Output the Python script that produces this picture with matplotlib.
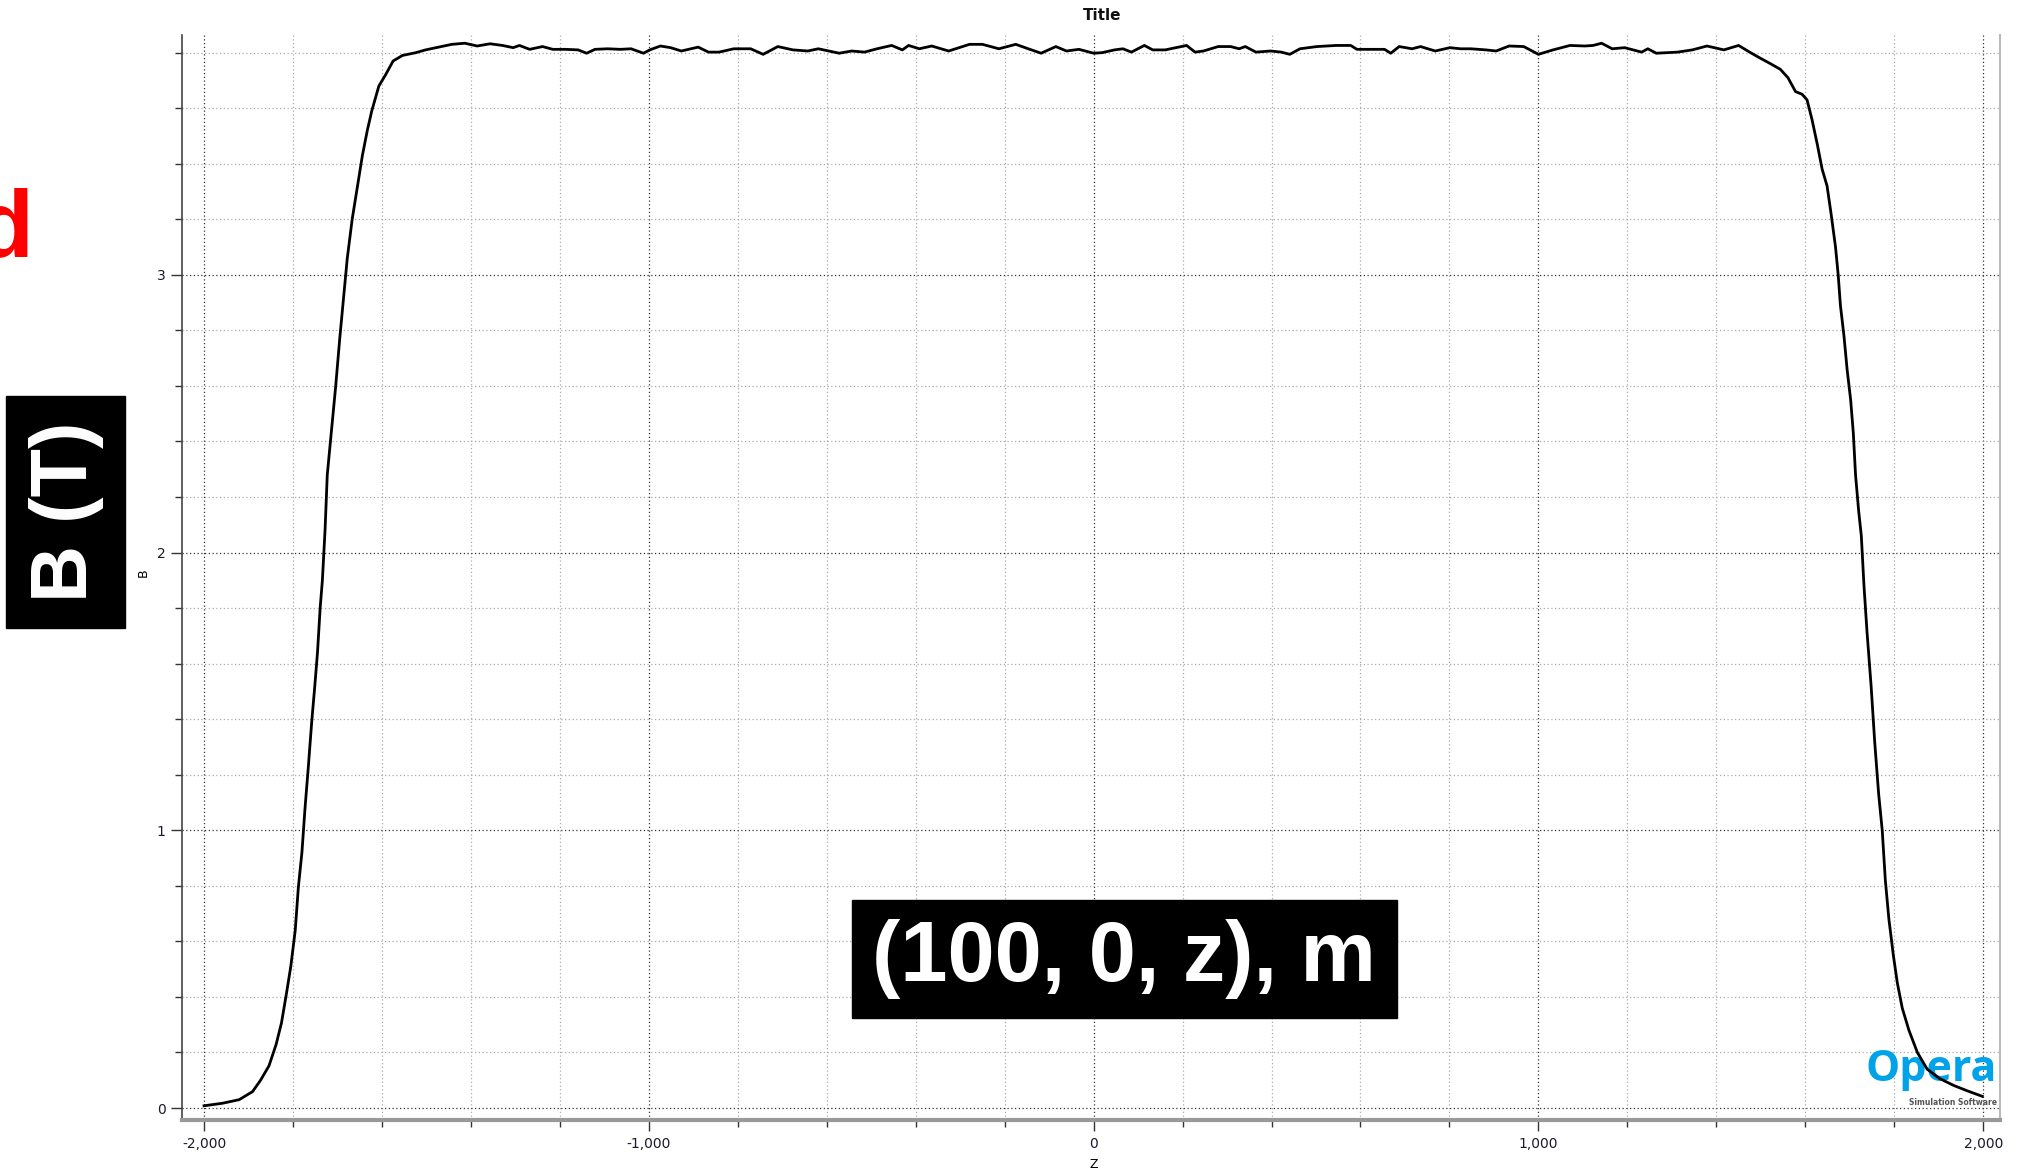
import matplotlib.pyplot as plt
from matplotlib.patches import Rectangle
from matplotlib.ticker import MultipleLocator, FuncFormatter

# field along the line (100, 0, z)
z_mm = [-2000, -1959, -1921, -1891, -1873, -1854, -1838, -1826, -1815, -1805,
        -1795, -1788, -1780, -1773, -1766, -1758, -1751, -1745, -1739, -1734,
        -1728, -1723, -1713, -1704, -1695, -1688, -1678, -1667, -1659, -1650,
        -1644, -1633, -1623, -1607, -1592, -1575, -1554, -1524, -1502, -1472,
        -1443, -1414, -1386, -1357, -1329, -1305, -1291, -1268, -1239, -1216,
        -1187, -1159, -1140, -1121, -1093, -1064, -1040, -1012, -998, -974,
        -951, -927, -889, -866, -842, -809, -771, -743, -710, -676,
        -643, -619, -572, -544, -515, -487, -454, -430, -416, -392,
        -364, -326, -279, -250, -213, -175, -147, -118, -85, -61,
        -33, 0, 19, 47, 66, 85, 114, 133, 161, 185,
        209, 228, 247, 280, 308, 327, 341, 365, 398, 422,
        441, 464, 502, 545, 578, 592, 654, 668, 687, 716,
        735, 768, 801, 825, 848, 882, 905, 934, 967, 1000,
        1033, 1071, 1104, 1123, 1142, 1166, 1194, 1232, 1246, 1265,
        1313, 1346, 1379, 1417, 1450, 1477, 1499, 1522, 1544, 1561,
        1578, 1593, 1604, 1615, 1627, 1638, 1649, 1658, 1668, 1674,
        1679, 1687, 1694, 1702, 1708, 1713, 1720, 1726, 1732, 1739,
        1748, 1756, 1765, 1773, 1780, 1788, 1798, 1807, 1818, 1833,
        1852, 1874, 1901, 1934, 1964, 1998]
b_tesla = [0.008, 0.017, 0.030, 0.059, 0.100, 0.152, 0.229, 0.306, 0.410, 0.510,
           0.640, 0.795, 0.920, 1.080, 1.220, 1.390, 1.520, 1.640, 1.800, 1.900,
           2.080, 2.280, 2.450, 2.600, 2.770, 2.890, 3.060, 3.200, 3.280, 3.370,
           3.430, 3.520, 3.590, 3.680, 3.720, 3.770, 3.790, 3.800, 3.810, 3.820,
           3.830, 3.834, 3.824, 3.832, 3.826, 3.818, 3.826, 3.812, 3.822, 3.812,
           3.812, 3.810, 3.798, 3.812, 3.814, 3.812, 3.814, 3.798, 3.810, 3.824,
           3.818, 3.806, 3.820, 3.802, 3.802, 3.814, 3.814, 3.794, 3.822, 3.810,
           3.806, 3.814, 3.798, 3.806, 3.802, 3.814, 3.826, 3.810, 3.826, 3.814,
           3.824, 3.806, 3.830, 3.830, 3.814, 3.830, 3.814, 3.798, 3.822, 3.806,
           3.812, 3.798, 3.800, 3.810, 3.814, 3.802, 3.826, 3.810, 3.810, 3.818,
           3.826, 3.802, 3.806, 3.822, 3.822, 3.814, 3.822, 3.802, 3.806, 3.802,
           3.794, 3.814, 3.822, 3.826, 3.826, 3.812, 3.812, 3.798, 3.822, 3.814,
           3.822, 3.806, 3.818, 3.814, 3.814, 3.810, 3.806, 3.824, 3.822, 3.794,
           3.810, 3.826, 3.824, 3.826, 3.834, 3.814, 3.818, 3.802, 3.814, 3.798,
           3.802, 3.810, 3.824, 3.810, 3.826, 3.800, 3.780, 3.760, 3.740, 3.710,
           3.660, 3.650, 3.630, 3.560, 3.470, 3.380, 3.320, 3.220, 3.100, 3.000,
           2.890, 2.780, 2.660, 2.550, 2.430, 2.280, 2.150, 2.060, 1.880, 1.710,
           1.520, 1.320, 1.130, 1.000, 0.820, 0.680, 0.550, 0.450, 0.360, 0.280,
           0.200, 0.140, 0.107, 0.081, 0.062, 0.042]

x_major = [-2000, -1000, 0, 1000, 2000]
y_major = [0, 1, 2, 3]

fig = plt.figure(figsize=(20.25, 11.71), dpi=100)
ax = fig.add_axes([0.0899, 0.0436, 0.8978, 0.9266])

ax.plot(z_mm, b_tesla, color='black', lw=2, zorder=4)

ax.set_xlim(-2049.5, 2038)
ax.set_ylim(-0.043, 3.864)

ax.set_xticks(x_major)
ax.set_yticks(y_major)
ax.xaxis.set_minor_locator(MultipleLocator(200))
ax.yaxis.set_minor_locator(MultipleLocator(0.2))
ax.xaxis.set_major_formatter(FuncFormatter(lambda v, p: '{:,.0f}'.format(v)))

ax.grid(which='major', color='#333333', ls=(0, (1, 2)), lw=0.9, zorder=1)
ax.grid(which='minor', color='#aaaaaa', ls=(0, (1, 2)), lw=0.9, zorder=1)

ax.tick_params(which='major', direction='out', length=8, width=1, color='#333333',
               labelsize=10, labelcolor='#1a1a2e', pad=4)
ax.tick_params(which='minor', direction='out', length=5, width=1, color='#333333')

ax.spines['top'].set_visible(False)
ax.spines['right'].set_color('#bbbbbb')
ax.spines['right'].set_linewidth(1.5)
ax.spines['left'].set_color('#444444')
ax.spines['left'].set_linewidth(1.2)
ax.spines['bottom'].set_color('#999999')
ax.spines['bottom'].set_linewidth(3)

fig.text(1102 / 2025, 1 - 15 / 1171, 'Title', ha='center', va='center',
         fontsize=11, fontweight='bold', color='#111111')
fig.text(1094 / 2025, 1 - 1164 / 1171, 'Z', ha='center', va='center', fontsize=9)
fig.text(143 / 2025, 1 - 573 / 1171, 'B', ha='center', va='center', fontsize=9,
         rotation=90)

# logo in the plot corner
ax.text(0.9985, 0.027, 'Opera', transform=ax.transAxes, ha='right', va='bottom',
        fontsize=31, fontweight='bold', color='#00a3e8', family='Open Sans',
        zorder=2)
ax.text(0.9985, 0.012, 'Simulation Software', transform=ax.transAxes, ha='right',
        va='bottom', fontsize=5.5, fontweight='bold', color='#555555', zorder=2)

# slide overlays
fig.patches.append(Rectangle((6 / 2025, 1 - 628 / 1171), 119 / 2025, 232 / 1171,
                             transform=fig.transFigure, color='black', zorder=10))
fig.text(66 / 2025, 1 - 512 / 1171, 'B (T)', ha='center', va='center', rotation=90,
         fontsize=57, fontweight='bold', color='white',
         family=['Liberation Sans', 'DejaVu Sans'], zorder=11)

fig.patches.append(Rectangle((852 / 2025, 1 - 1018 / 1171), 545 / 2025, 118 / 1171,
                             transform=fig.transFigure, color='black', zorder=10))
fig.text(1124 / 2025, 1 - 959 / 1171, '(100, 0, z), m', ha='center', va='center',
         fontsize=61, fontweight='bold', color='white',
         family=['Liberation Sans', 'DejaVu Sans'], zorder=11)

fig.text(33 / 2025, 1 - 256 / 1171, 'd', ha='right', va='baseline', fontsize=68,
         fontweight='bold', color='#ff0000', family=['Liberation Sans', 'DejaVu Sans'])

fig.savefig('out.png', dpi=100)
